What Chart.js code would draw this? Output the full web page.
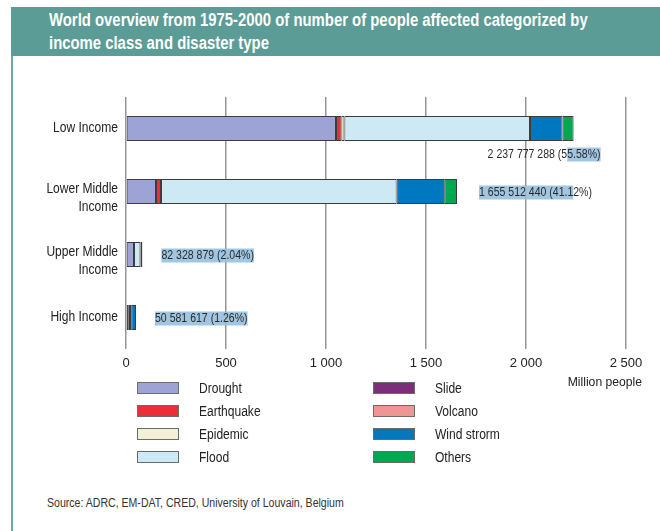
<!DOCTYPE html>
<html>
<head>
<meta charset="utf-8">
<script src="https://cdn.jsdelivr.net/npm/chart.js@4.4.1/dist/chart.umd.min.js"></script>
<style>
  body { margin: 0; background: #fff; }
  #wrap { position: relative; width: 660px; height: 531px; overflow: hidden; }
  #banner {
    position: absolute; left: 11px; top: 7px; width: 649px; height: 49px;
    background: #5b9c96;
  }
  #title {
    position: absolute; left: 49px; top: 9px; color: #fff; white-space: nowrap;
    font: bold 17.5px 'Liberation Sans', Arial, sans-serif; line-height: 22.5px;
    transform: scaleX(0.85); transform-origin: 0 0;
  }
  #frame { position: absolute; left: 11px; top: 56px; width: 2px; height: 475px; background: #6aa8a2; }
  #source {
    position: absolute; left: 47px; top: 496px; color: #333; white-space: nowrap;
    font: 12px 'Liberation Sans', Arial, sans-serif;
    transform: scaleX(0.88); transform-origin: 0 0;
  }
  canvas { position: absolute; left: 0; top: 0; }
</style>
</head>
<body>
<div id="wrap">
  <div id="banner"></div>
  <div id="title">World overview from 1975-2000 of number of people affected categorized by<br>income class and disaster type</div>
  <div id="frame"></div>
  <div id="source">Source: ADRC, EM-DAT, CRED, University of Louvain, Belgium</div>
  <canvas id="disasterChart" width="660" height="531"></canvas>
</div>
<script>
// --- Data (million people) ---
const incomeClasses = [['Low Income'], ['Lower Middle', 'Income'], ['Upper Middle', 'Income'], ['High Income']];
const drought    = [1050, 150, 40, 14];
const earthquake = [27, 25, 0, 6];
const epidemic   = [15, 0, 0, 0];
const flood      = [928, 1178, 32, 6];
const slide      = [0, 0, 0, 0];
const volcano    = [0, 0, 0, 0];
const windStorm  = [163, 238, 10, 24];
const others     = [55, 64, 0, 0];
const totalLabels = ['2 237 777 288 (55.58%)', '1 655 512 440 (41.12%)', '82 328 879 (2.04%)', '50 581 617 (1.26%)'];
const xTicks = [0, 500, 1000, 1500, 2000, 2500];

const FONT = "'Liberation Sans', Arial, sans-serif";
const NARROW = 0.86; // no condensed face installed, squeeze horizontally

const mk = (label, data, color) => ({
  label, data, backgroundColor: color,
  borderColor: '#3c3c3c', borderWidth: 1, borderSkipped: false,
  barPercentage: 0.4, categoryPercentage: 1
});

const datasets = [
  mk('Drought', drought, '#9ea3d5'),
  mk('Earthquake', earthquake, '#ea2f36'),
  mk('Epidemic', epidemic, '#f2f1d6'),
  mk('Flood', flood, '#cde9f3'),
  mk('Slide', slide, '#7b2f7b'),
  mk('Volcano', volcano, '#ef9694'),
  mk('Wind strorm', windStorm, '#0078c0'),
  mk('Others', others, '#00a84f')
];

const fmt = v => String(v).replace(/\B(?=(\d{3})+(?!\d))/g, ' ');

function squeezed(c, txt, x, y, sx, align) {
  c.save();
  c.translate(x, y);
  c.scale(sx, 1);
  c.textAlign = align;
  c.fillText(txt, 0, 0);
  c.restore();
}

// --- Category labels, totals, legend and unit label ---
const extras = {
  id: 'extras',
  afterDatasetsDraw(chart) {
    const c = chart.ctx, xs = chart.scales.x, ys = chart.scales.y;
    c.save();
    c.textBaseline = 'middle';

    // category labels
    c.font = '14px ' + FONT;
    c.fillStyle = '#222';
    chart.data.labels.forEach((lines, i) => {
      const yc = ys.getPixelForValue(i);
      lines.forEach((ln, j) => {
        const y = lines.length > 1 ? yc - 2 + j * 17.5 : yc;
        squeezed(c, ln, xs.left - 8, y, NARROW, 'right');
      });
    });

    // totals with the selection highlight of the source document
    c.font = '13px ' + FONT;
    const sx = 0.81;
    incomeClasses.forEach((_, i) => {
      let end = 0;
      datasets.forEach(d => end += d.data[i]);
      const xEnd = xs.getPixelForValue(end);
      const yc = ys.getPixelForValue(i);
      const txt = totalLabels[i];
      let x0, y0;
      if (i === 0) { x0 = xEnd - 86; y0 = yc + 26; }
      else { x0 = xEnd + (i === 1 ? 22 : 19); y0 = yc + 1; }
      let h0 = 0, h1 = txt.length;
      if (i === 0) h0 = txt.indexOf('5.58');
      if (i === 1) h1 = txt.indexOf('2%)');
      const hx = x0 + sx * c.measureText(txt.slice(0, h0)).width;
      const hw = sx * c.measureText(txt.slice(h0, h1)).width;
      c.fillStyle = 'rgba(150,192,222,0.9)';
      c.fillRect(hx, y0 - 7, hw, 14);
      c.fillStyle = '#2a2a2a';
      squeezed(c, txt, x0, y0, sx, 'left');
    });

    // unit
    c.font = '13.5px ' + FONT;
    c.fillStyle = '#222';
    squeezed(c, 'Million people', xs.right + 16, xs.top + 33, 0.9, 'right');

    // legend, two columns
    c.font = '14px ' + FONT;
    datasets.forEach((d, k) => {
      const col = Math.floor(k / 4), row = k % 4;
      const bx = xs.left + 11 + col * 236;
      const by = xs.top + 33 + row * 23;
      c.fillStyle = d.backgroundColor;
      c.fillRect(bx, by, 42, 12);
      c.strokeStyle = '#6b6b6b';
      c.lineWidth = 1;
      c.strokeRect(bx + 0.5, by + 0.5, 41, 11);
      c.fillStyle = '#222';
      squeezed(c, d.label, bx + 62, by + 7, NARROW, 'left');
    });
    c.restore();
  }
};

new Chart(document.getElementById('disasterChart'), {
  type: 'bar',
  data: { labels: incomeClasses, datasets },
  options: {
    indexAxis: 'y',
    responsive: false,
    animation: false,
    layout: { padding: { left: 0, top: 97, right: 34, bottom: 154 } },
    plugins: { legend: { display: false }, tooltip: { enabled: false } },
    scales: {
      x: {
        stacked: true, min: 0, max: 2500,
        afterBuildTicks: s => { s.ticks = xTicks.map(v => ({ value: v })); },
        afterFit: s => { s.height = 28; },
        ticks: { callback: v => fmt(v), color: '#222', font: { family: FONT, size: 13 }, padding: 7, maxRotation: 0 },
        grid: { color: '#969696', lineWidth: 1.5, drawTicks: false },
        border: { display: false }
      },
      y: {
        stacked: true,
        afterFit: s => { s.width = 126; },
        ticks: { display: false },
        grid: { display: false },
        border: { display: false }
      }
    }
  },
  plugins: [extras]
});
</script>
</body>
</html>
